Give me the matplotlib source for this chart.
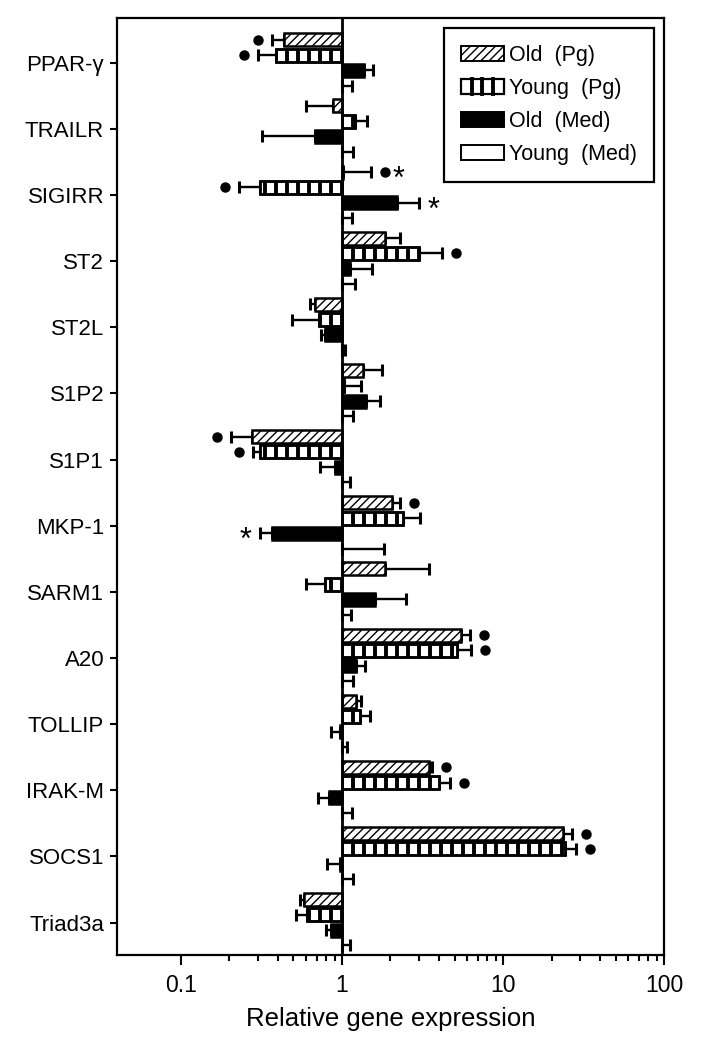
import numpy as np
import matplotlib
matplotlib.use('Agg')
import matplotlib.pyplot as plt
from matplotlib.patches import Rectangle, Patch
from matplotlib.lines import Line2D
from matplotlib.collections import LineCollection
from matplotlib.legend_handler import HandlerBase
from matplotlib.ticker import FixedLocator, NullFormatter
import matplotlib.transforms as mtransforms

plt.rcParams['font.family'] = ['Liberation Sans', 'DejaVu Sans']
plt.rcParams['hatch.linewidth'] = 1.0

genes = ['PPAR-γ', 'TRAILR', 'SIGIRR', 'ST2', 'ST2L', 'S1P2', 'S1P1',
         'MKP-1', 'SARM1', 'A20', 'TOLLIP', 'IRAK-M', 'SOCS1', 'Triad3a']

# bar values (fold change) and tip of the error bar
old_pg = [0.44, 0.88, 1.02, 1.86, 0.68, 1.36, 0.275, 2.05, 1.86, 5.5, 1.23, 3.46, 23.5, 0.585]
old_pg_tip = [0.366, 0.60, 1.51, 2.28, 0.63, 1.77, 0.205, 2.3, 3.45, 6.24, 1.31, 3.63, 26.9, 0.55]

young_pg = [0.39, 1.2, 0.31, 3.0, 0.72, 1.03, 0.31, 2.39, 0.79, 5.16, 1.30, 3.99, 24.2, 0.61]
young_pg_tip = [0.30, 1.43, 0.23, 4.2, 0.49, 1.31, 0.279, 3.05, 0.60, 6.37, 1.49, 4.72, 28.2, 0.52]

old_med = [1.38, 0.68, 2.21, 1.13, 0.78, 1.42, 0.90, 0.366, 1.6, 1.23, 0.97, 0.83, 0.97, 0.85]
old_med_tip = [1.57, 0.32, 3.02, 1.54, 0.74, 1.73, 0.73, 0.31, 2.5, 1.39, 0.85, 0.71, 0.81, 0.80]

young_med = [1.0] * 14
young_med_tip = [1.15, 1.17, 1.15, 1.21, 1.05, 1.18, 1.13, 1.83, 1.14, 1.17, 1.07, 1.16, 1.17, 1.13]

labels = ['Old  (Pg)', 'Young  (Pg)', 'Old  (Med)', 'Young  (Med)']

# significance marks: (gene index, series index, symbols)
marks = [(0, 0, '•'), (0, 1, '•'), (2, 0, '•*'), (2, 1, '•'), (2, 2, '*'),
         (3, 1, '•'), (6, 0, '•'), (6, 1, '•'), (7, 0, '•'), (7, 2, '*'),
         (9, 0, '•'), (9, 1, '•'), (11, 0, '•'), (11, 1, '•'),
         (12, 0, '•'), (12, 1, '•')]

values = [old_pg, young_pg, old_med, young_med]
tips = [old_pg_tip, young_pg_tip, old_med_tip, young_med_tip]
faces = ['white', 'white', 'black', 'white']
hatches = ['////', None, None, None]

fig = plt.figure(figsize=(7.05, 10.5), dpi=100)
ax = fig.add_axes([0.1655, 0.0905, 0.7765, 0.892])
ax.set_xscale('log')
ax.set_xlim(0.04, 100)
ax.set_ylim(13.49, -0.67)

step = 0.231
h = 0.197
yc = np.arange(len(genes))

bars_all = []
for j in range(4):
    v = np.array(values[j])
    t = np.array(tips[j])
    y = yc + (j - 1.5) * step
    bars = ax.barh(y, v - 1, left=1, height=h, color=faces[j], edgecolor='black',
                   linewidth=1.8, hatch=hatches[j], zorder=3)
    bars_all.append(bars)
    lo = np.where(t < v, v - t, 0)
    hi = np.where(t > v, t - v, 0)
    ax.errorbar(v, y, xerr=[lo, hi], fmt='none', ecolor='black', elinewidth=1.7,
                capsize=4.5, capthick=2.2, zorder=2)

# vertical stripes for Young (Pg), clipped to each bar
x0 = np.log10(1 / 0.04) / np.log10(100 / 0.04)
wpx = 0.7765 * 705
dstep = 11.0 / wpx
xs = x0 + np.arange(-40, 40) * dstep
btrans = mtransforms.blended_transform_factory(ax.transAxes, ax.transData)
for k, b in enumerate(bars_all[1]):
    yy = yc[k] - 0.5 * step
    segs = [[(x, yy - h / 2), (x, yy + h / 2)] for x in xs]
    lc = LineCollection(segs, colors='black', linewidths=2.8, transform=btrans, zorder=3.5)
    ax.add_collection(lc, autolim=False)
    lc.set_clip_path(b.get_path(), b.get_transform())
    ax.add_patch(Rectangle(b.get_xy(), b.get_width(), b.get_height(), fill=False,
                           edgecolor='black', linewidth=1.8, zorder=4))

ax.axvline(1, color='black', linewidth=2, zorder=5)

# significance symbols
for gi, sj, sym in marks:
    v = values[sj][gi]
    t = tips[sj][gi]
    y = yc[gi] + (sj - 1.5) * step
    sgn = 1 if t >= v and v >= 1 else -1
    for n, ch in enumerate(sym):
        off = sgn * (14 + 14 * n)
        if ch == '•':
            tr = mtransforms.offset_copy(ax.transData, fig=fig, x=off, y=0, units='dots')
            ax.plot([t], [y], 'o', color='black', markersize=6.5, transform=tr, zorder=6,
                    clip_on=False)
        else:
            ax.annotate('*', xy=(t, y), xytext=(off, -8), textcoords='offset pixels',
                        ha='center', va='center', fontsize=22, zorder=6)

ax.set_yticks(yc)
ax.set_yticklabels(genes, fontsize=16)
ax.set_xticks([0.1, 1, 10, 100])
ax.set_xticklabels(['0.1', '1', '10', '100'], fontsize=16.5)
minors = [m * d for d in (0.1, 1, 10) for m in range(2, 10)]
ax.xaxis.set_minor_locator(FixedLocator(minors))
ax.xaxis.set_minor_formatter(NullFormatter())
ax.tick_params(axis='x', which='major', length=7, width=1.5, pad=7)
ax.tick_params(axis='x', which='minor', length=4.5, width=1.5)
ax.tick_params(axis='y', length=5, width=1.5, pad=4)
for s in ax.spines.values():
    s.set_linewidth(1.6)
ax.set_xlabel('Relative gene expression', fontsize=18.5, labelpad=7)


class StripeHandler(HandlerBase):
    def create_artists(self, legend, orig_handle, xdescent, ydescent, width, height,
                       fontsize, trans):
        arts = [Rectangle((-xdescent, -ydescent), width, height, facecolor='white',
                          edgecolor='black', linewidth=1.6, transform=trans)]
        for k in range(1, 4):
            xx = -xdescent + width * k / 4
            arts.append(Line2D([xx, xx], [-ydescent, -ydescent + height], color='black',
                               linewidth=2.8, transform=trans))
        return arts


handles = [Patch(facecolor='white', edgecolor='black', hatch='////', linewidth=1.4),
           Patch(facecolor='white', edgecolor='black'),
           Patch(facecolor='black', edgecolor='black', linewidth=1.4),
           Patch(facecolor='white', edgecolor='black', linewidth=1.4)]
leg = ax.legend(handles, labels, loc='upper right', fontsize=15.5, frameon=True,
                fancybox=False, edgecolor='black', framealpha=1,
                handlelength=2.0, handleheight=0.7, handletextpad=0.25,
                labelspacing=0.55, borderpad=0.8, borderaxespad=0.45,
                handler_map={handles[1]: StripeHandler()})
leg.get_frame().set_linewidth(1.6)
leg.set_zorder(10)

fig.savefig('out.png', dpi=100)
